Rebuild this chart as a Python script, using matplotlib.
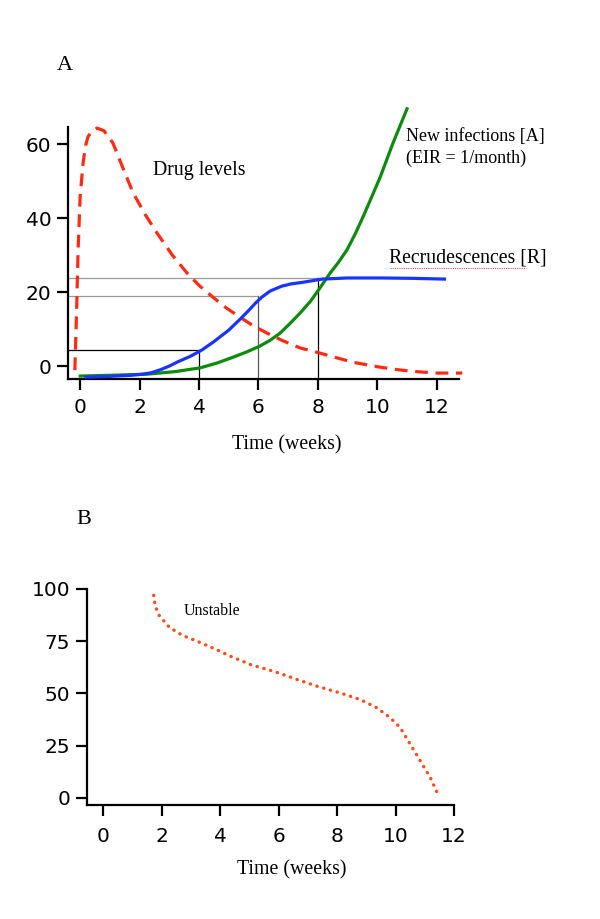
import matplotlib
matplotlib.use("Agg")
import matplotlib.pyplot as plt
from matplotlib.lines import Line2D

# panel A curves
drug_t = [-0.18, -0.12, -0.07, 0.0, 0.1, 0.18, 0.26, 0.4, 0.57, 0.8, 1.1, 1.4, 1.78, 2.2,
          2.59, 3.1, 3.6, 4.0, 4.47, 4.9, 5.38, 5.8, 6.29, 6.8, 7.4, 8.07, 8.6, 9.2,
          10.09, 10.7, 11.3, 12.0, 12.86]
drug_y = [-1.1, 15.0, 31.4, 46.0, 55.0, 59.5, 61.9, 63.6, 64.3, 63.6, 60.3, 54.3, 46.8, 40.8,
          35.9, 30.0, 25.1, 21.8, 18.6, 15.8, 13.2, 11.0, 8.9, 6.9, 4.9, 3.5, 2.3, 1.0,
          -0.3, -1.0, -1.5, -1.9, -1.9]

recr_t = [0.2, 1.0, 1.7, 2.1, 2.4, 2.7, 3.0, 3.3, 3.7, 4.09, 4.5, 5.0, 5.4, 5.68, 5.9,
          6.11, 6.4, 6.79, 7.1, 7.47, 8.14, 9.0, 10.17, 11.2, 12.26]
recr_y = [-3.0, -2.8, -2.5, -2.2, -1.8, -1.0, 0.0, 1.2, 2.6, 4.3, 6.6, 9.7, 12.8, 15.1, 17.0,
          18.6, 20.3, 21.6, 22.2, 22.6, 23.5, 23.8, 23.8, 23.7, 23.5]

new_t = [0.0, 1.0, 2.25, 3.2, 4.03, 4.6, 5.15, 5.6, 6.05, 6.4, 6.73, 7.05, 7.4, 7.75,
         8.07, 8.41, 8.7, 8.98, 9.25, 9.52, 9.8, 10.1, 10.53, 11.0]
new_y = [-2.7, -2.5, -2.2, -1.5, -0.5, 0.8, 2.4, 3.8, 5.4, 7.0, 8.9, 11.4, 14.3, 17.5,
         21.1, 25.1, 28.1, 31.4, 35.6, 40.3, 45.5, 51.1, 60.3, 69.5]

ref_weeks = [4, 6, 8]
ref_levels = [4.3, 18.9, 23.8]

# panel B
unst_t = [1.73, 1.78, 1.92, 2.26, 2.71, 3.28, 3.84, 4.4, 5.08, 5.87, 6.66, 7.34, 8.13,
          8.8, 9.37, 9.82, 10.16, 10.5, 10.84, 11.18, 11.49]
unst_y = [97.0, 92.0, 87.3, 81.7, 77.8, 74.6, 71.2, 67.5, 63.6, 60.4, 56.5, 53.3, 50.1,
          47.0, 43.0, 38.3, 33.6, 25.7, 17.8, 9.9, 0.4]

ticks_a_x = [0, 2, 4, 6, 8, 10, 12]
ticks_a_y = [0, 20, 40, 60]
ticks_b_y = [0, 25, 50, 75, 100]

W, H = 600, 919
serif = "Liberation Serif"


def fx(px):
    return px / W


def fy(py):
    return 1 - py / H


def style_axes(ax):
    for s in ["top", "right"]:
        ax.spines[s].set_visible(False)
    for s in ["left", "bottom"]:
        ax.spines[s].set_linewidth(1.6)
    ax.tick_params(direction="out", length=8, width=1.6, labelsize=14.5, pad=4,
                   colors="black")
    ax.tick_params(axis="x", pad=6)


fig = plt.figure(figsize=(6, 9.19), dpi=100)

# ---- panel A
axA = fig.add_axes([fx(68), fy(379), (459 - 68) / W, (379 - 127) / H])
style_axes(axA)
axA.set_xlim(-0.41, 12.75)
axA.set_ylim(-3.5, 64.6)
axA.set_xticks(ticks_a_x)
axA.set_yticks(ticks_a_y)

xl = axA.get_xlim()[0]
yb = axA.get_ylim()[0]
hcol = ["black", "#9a9a9a", "#9a9a9a"]
vcol = ["black", "#555555", "black"]
for w, lv, hc, vc in zip(ref_weeks, ref_levels, hcol, vcol):
    axA.plot([xl, w], [lv, lv], color=hc, lw=0.9, zorder=1)
    axA.plot([w, w], [yb, lv], color=vc, lw=0.9, zorder=1)

axA.plot(drug_t, drug_y, color="#ff2a12", lw=2.3, dashes=(4, 2.4), clip_on=False, zorder=3)
axA.plot(new_t, new_y, color="#0c8c0c", lw=2.3, clip_on=False, zorder=3)
axA.plot(recr_t, recr_y, color="#1a33ff", lw=2.3, clip_on=False, zorder=4)

fig.text(fx(65), fy(65), "A", family=serif, fontsize=16, ha="center", va="center")
fig.text(fx(153), fy(170), "Drug levels", family=serif, fontsize=14.3, ha="left", va="center")
fig.text(fx(406), fy(137), "New infections [A]", family=serif, fontsize=13, ha="left", va="center")
fig.text(fx(406), fy(158), "(EIR = 1/month)", family=serif, fontsize=13, ha="left", va="center")
fig.text(fx(389), fy(258), "Recrudescences [R]", family=serif, fontsize=14.2, ha="left", va="center")
# spell-check squiggle under the word
fig.add_artist(Line2D([fx(390), fx(526)], [fy(268), fy(268)], color="#e05050", lw=0.8,
                      linestyle=(0, (1, 1)), transform=fig.transFigure))
fig.text(fx(287), fy(445), "Time (weeks)", family=serif, fontsize=14.3, ha="center", va="center")

# ---- panel B
axB = fig.add_axes([fx(87), fy(805), (454 - 87) / W, (805 - 589) / H])
style_axes(axB)
axB.set_xlim(-0.55, 12.0)
axB.set_ylim(-3.5, 100)
axB.set_xticks(ticks_a_x)
axB.set_yticks(ticks_b_y)
axB.tick_params(axis="x", pad=8)

axB.plot(unst_t, unst_y, color="#ff4a1a", lw=2.4, linestyle=(0, (0.1, 2.0)),
         dash_capstyle="round", clip_on=False)

fig.text(fx(84), fy(519), "B", family=serif, fontsize=16, ha="center", va="center")
fig.text(fx(184), fy(611), "Unstable", family=serif, fontsize=11.5, ha="left", va="center")
fig.text(fx(292), fy(870), "Time (weeks)", family=serif, fontsize=14.3, ha="center", va="center")

fig.savefig("out.png", dpi=100)
